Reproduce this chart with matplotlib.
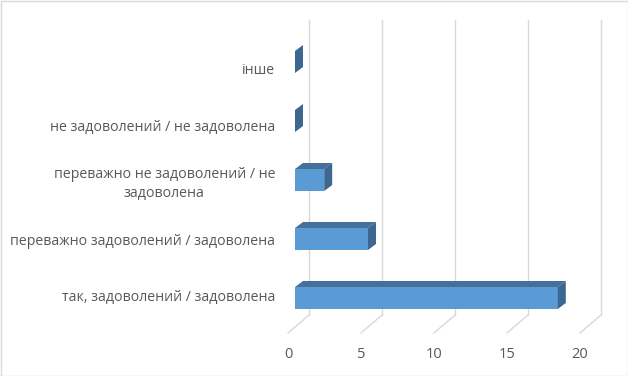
import matplotlib.pyplot as plt
from matplotlib.patches import Polygon, Rectangle

categories = ["так, задоволений / задоволена",
              "переважно задоволений / задоволена",
              "переважно не задоволений / не\nзадоволена",
              "не задоволений / не задоволена",
              "інше"]
values = [18, 5, 2, 0, 0]
ticks = [0, 5, 10, 15, 20]

plt.rcParams['font.family'] = ['Open Sans', 'DejaVu Sans']

fig = plt.figure(figsize=(6.28, 3.76), dpi=100)
ax = fig.add_axes([0, 0, 1, 1])
ax.axis('off')

# pixel scale: 14.6 px per unit in x, 59 px per category in y
px = 1 / 14.6
py = 1 / 59
ax.set_xlim(-295 * px, (628 - 295) * px)
ax.set_ylim((298 - 376) * py, 298 * py)

front = "#5b9bd5"
top = "#44709b"
side = "#3c6791"
grid = "#d9d9d9"
txt = "#595959"

# back wall gridlines and floor diagonals
for t in ticks:
    xb = t + 14 * px
    ax.plot([xb, xb], [(298 - 315) * py, (298 - 20) * py], color=grid, lw=1, zorder=1)
    ax.plot([xb, t - 7 * px], [(298 - 315) * py, (298 - 333) * py], color=grid, lw=1, zorder=1)
    ax.text(t - 7 * px, (298 - 355) * py, str(t), ha='center', va='center',
            fontsize=10.5, color=txt)

h = 11 * py
dx = 8 * px
dy = 6 * py
for i, v in enumerate(values):
    if v > 0:
        ax.add_patch(Rectangle((0, i - h), v, 2 * h, facecolor=front, edgecolor='none', zorder=3))
        ax.add_patch(Polygon([(0, i + h), (v, i + h), (v + dx, i + h + dy), (dx, i + h + dy)],
                             closed=True, facecolor=top, edgecolor='none', zorder=3))
    ax.add_patch(Polygon([(v, i - h), (v, i + h), (v + dx, i + h + dy), (v + dx, i - h + dy)],
                         closed=True, facecolor=side, edgecolor='none', zorder=3))
    ax.text(-20 * px, i * 0.966, categories[i], ha='right', va='center',
            fontsize=10.2, color=txt, multialignment='center', linespacing=1.3)

fig.patches.append(Rectangle((0.5 / 628, 0.5 / 376), 1 - 1 / 628, 1 - 1 / 376,
                             transform=fig.transFigure, fill=False,
                             edgecolor=grid, lw=1))

fig.savefig("out.png", dpi=100)
